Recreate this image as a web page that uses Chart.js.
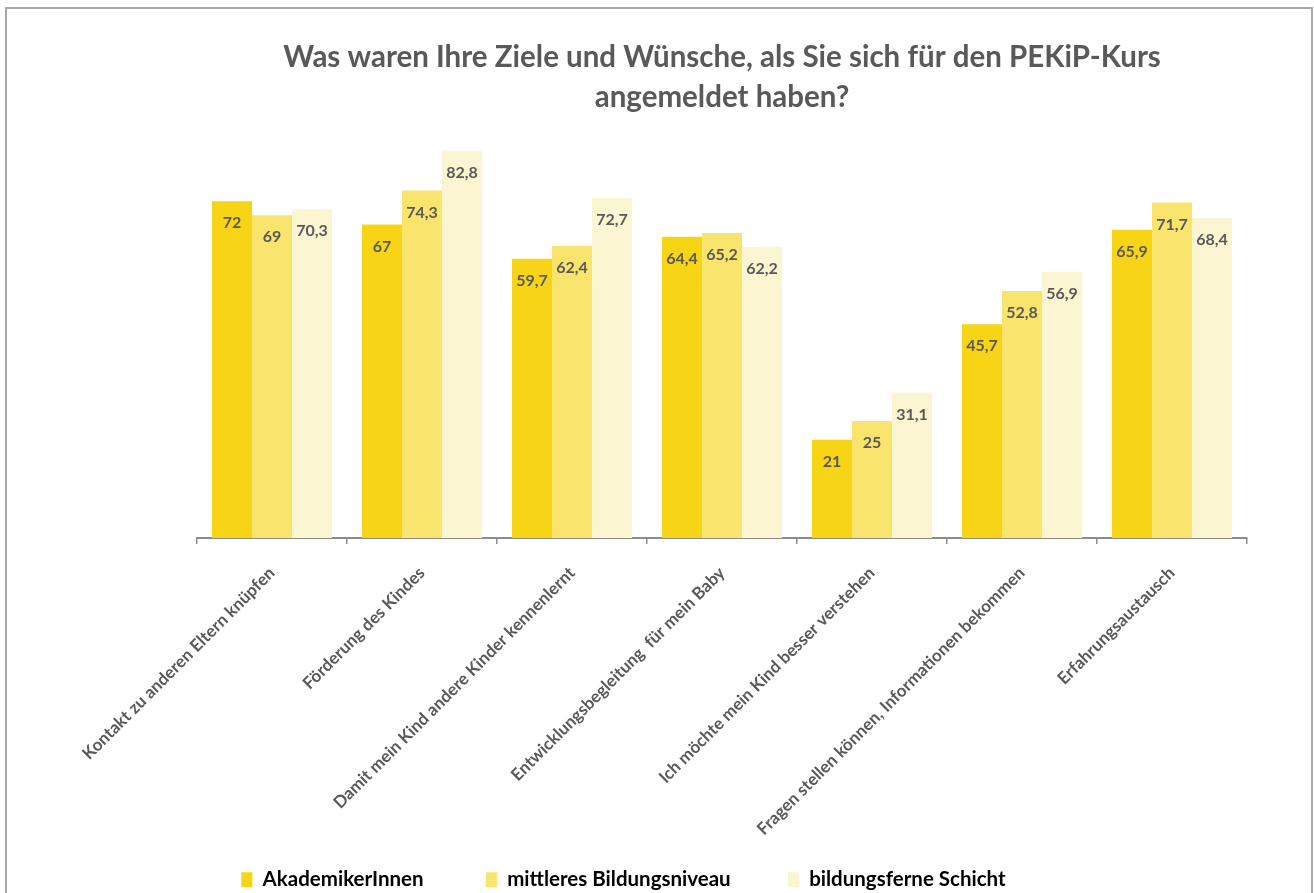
<!DOCTYPE html>
<html>
<head>
<meta charset="utf-8">
<script src="https://cdn.jsdelivr.net/npm/chart.js@4/dist/chart.umd.min.js"></script>
<style>
  html, body { margin: 0; padding: 0; background: #fff; overflow: hidden; }
  #frame { position: absolute; left: 5px; top: 7px; width: 1304px; height: 940px; border: 2px solid #a8a8a8; }
  #wrap { position: absolute; left: 0; top: 0; width: 1269px; height: 900px; }
</style>
</head>
<body>
<div id="frame"></div>
<div id="wrap"><canvas id="chart"></canvas></div>
<script>
const categories = [
  "Kontakt zu anderen Eltern knüpfen",
  "Förderung des Kindes",
  "Damit mein Kind andere Kinder kennenlernt",
  "Entwicklungsbegleitung  für mein Baby",
  "Ich möchte mein Kind besser verstehen",
  "Fragen stellen können, Informationen bekommen",
  "Erfahrungsaustausch"
];
const seriesNames = ["AkademikerInnen", "mittleres Bildungsniveau", "bildungsferne Schicht"];
const akademiker = [72, 67, 59.7, 64.4, 21, 45.7, 65.9];
const mittleres  = [69, 74.3, 62.4, 65.2, 25, 52.8, 71.7];
const bildungsfern = [70.3, 82.8, 72.7, 62.2, 31.1, 56.9, 68.4];
const colors = ["#F7D516", "#F9E46E", "#FCF5D2"];

const fmt = v => String(v).replace(".", ",");

// value labels inside the top of each bar
const barLabels = {
  id: "barLabels",
  afterDatasetsDraw(chart) {
    const ctx = chart.ctx;
    ctx.save();
    ctx.font = "bold 16px Lato";
    ctx.fillStyle = "#595959";
    ctx.textAlign = "center";
    ctx.textBaseline = "middle";
    chart.data.datasets.forEach((ds, i) => {
      chart.getDatasetMeta(i).data.forEach((bar, j) => {
        ctx.fillText(fmt(ds.data[j]), bar.x, bar.y + 22);
      });
    });
    ctx.restore();
  }
};

// wide gaps between legend entries, like the original
const legendGaps = ["\u2003\u2003\u2003\u2002", "\u2003\u2003\u2003\u2005", ""];

new Chart(document.getElementById("chart"), {
  type: "bar",
  data: {
    labels: categories,
    datasets: [akademiker, mittleres, bildungsfern].map((d, i) => ({
      label: seriesNames[i], data: d, backgroundColor: colors[i], borderWidth: 0
    }))
  },
  options: {
    responsive: true,
    maintainAspectRatio: false,
    animation: false,
    layout: { padding: { right: 22 } },
    datasets: { bar: { categoryPercentage: 0.8, barPercentage: 1.0 } },
    plugins: {
      tooltip: { enabled: false },
      title: {
        display: true,
        fullSize: false,
        text: ["Was waren Ihre Ziele und Wünsche, als Sie sich für den PEKiP-Kurs", "angemeldet haben?"],
        color: "#595959",
        font: { family: "Lato", size: 29.5, weight: "bold", lineHeight: "40px" },
        padding: { top: 37, bottom: 0 }
      },
      legend: {
        position: "bottom",
        labels: {
          color: "#000",
          font: { family: "Lato", size: 20.5, weight: "bold" },
          boxWidth: 11, boxHeight: 15, padding: 6,
          generateLabels(chart) {
            const items = Chart.defaults.plugins.legend.labels.generateLabels(chart);
            items.forEach((it, i) => { it.text += legendGaps[i]; });
            return items;
          }
        }
      }
    },
    scales: {
      x: {
        grid: { offset: true, drawOnChartArea: false, drawTicks: true, tickLength: 6, color: "#8c8c8c", lineWidth: 1.5 },
        border: { color: "#8c8c8c", width: 2 },
        ticks: {
          autoSkip: false, minRotation: 45, maxRotation: 45, padding: 19,
          color: "#595959", font: { family: "Lato", size: 17, weight: "bold" }
        },
        afterFit(s) { s.height = 325.5; }
      },
      y: {
        min: 0, max: 90,
        grid: { display: false },
        border: { display: false },
        ticks: { display: false },
        afterFit(s) { s.width = 197; }
      }
    }
  },
  plugins: [barLabels]
});
</script>
</body>
</html>
